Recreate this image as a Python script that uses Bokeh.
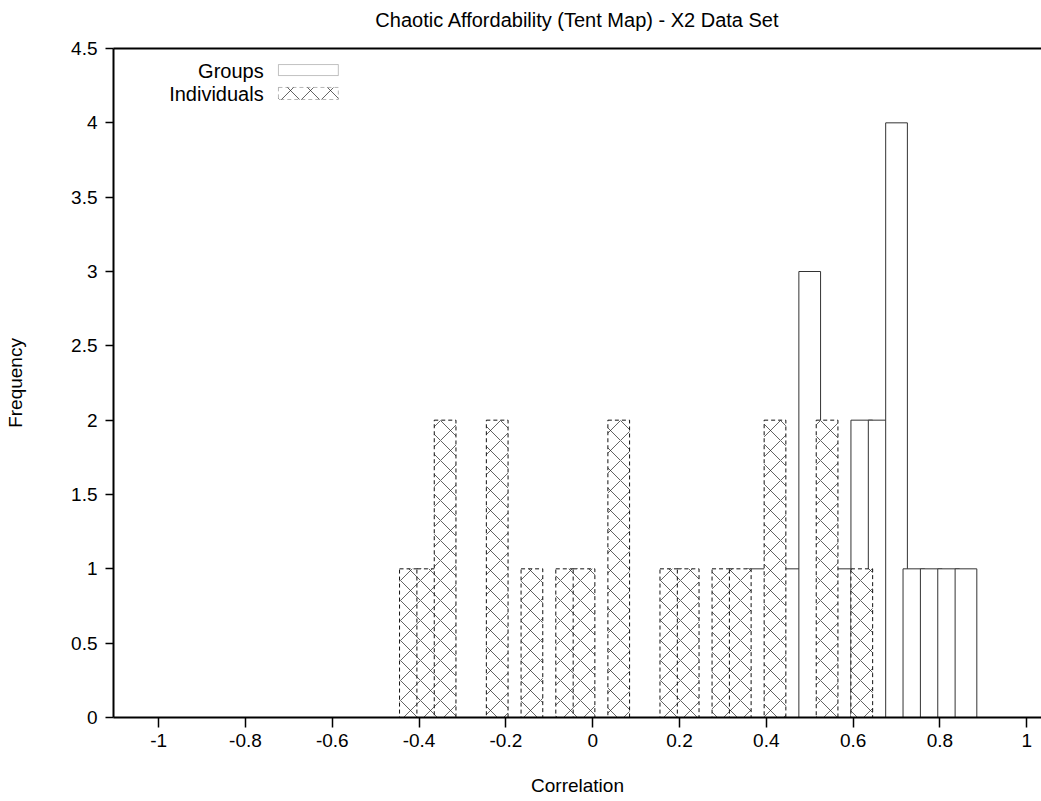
from bokeh.plotting import figure
from bokeh.models import (LinearAxis, FixedTicker, Range1d, Label, BoxAnnotation, ColumnDataSource, Title)
from bokeh.embed import file_html
from bokeh.resources import INLINE

# ---- data ----
ind_centers = [-0.42, -0.38, -0.34, -0.22, -0.14, -0.06, -0.02, 0.06, 0.18, 0.22, 0.30, 0.34, 0.42, 0.54, 0.62]
ind_freq = [1, 1, 2, 2, 1, 1, 1, 2, 1, 1, 1, 1, 2, 2, 1]
grp_centers = [0.38, 0.46, 0.50, 0.58, 0.62, 0.66, 0.70, 0.74, 0.78, 0.82, 0.86]
grp_freq = [1, 1, 3, 1, 2, 2, 4, 1, 1, 1, 1]
bin_width = 0.05

x_ticks = [-1, -0.8, -0.6, -0.4, -0.2, 0, 0.2, 0.4, 0.6, 0.8, 1]
x_labels = ["-1", "-0.8", "-0.6", "-0.4", "-0.2", "0", "0.2", "0.4", "0.6", "0.8", "1"]
y_ticks = [0, 0.5, 1, 1.5, 2, 2.5, 3, 3.5, 4, 4.5]
y_labels = ["0", "0.5", "1", "1.5", "2", "2.5", "3", "3.5", "4", "4.5"]

title_text = "Chaotic Affordability (Tent Map) - X2 Data Set"
series_names = ["Groups", "Individuals"]

FONT = "Liberation Sans"
FS = "19px"
FS_BIG = "20px"

p = figure(width=1041, height=800, output_backend="svg", toolbar_location=None,
           x_range=Range1d(-1.104, 1.034), y_range=Range1d(0, 4.5),
           min_border_left=113, min_border_right=0, min_border_top=48, min_border_bottom=83,
           title=None)
p.outline_line_color = None
p.grid.visible = False
p.background_fill_color = "white"

grp_src = ColumnDataSource(dict(x=grp_centers, top=grp_freq))
ind_src = ColumnDataSource(dict(x=ind_centers, top=ind_freq))

p.vbar(x="x", top="top", bottom=0, width=bin_width, source=grp_src,
       fill_color="white", line_color="#333333", line_width=1)
p.vbar(x="x", top="top", bottom=0, width=bin_width, source=ind_src,
       fill_color="white", line_color="#111111", line_width=1, line_dash="4 3",
       hatch_pattern="diagonal_cross", hatch_scale=20, hatch_weight=1,
       hatch_color="#222222", hatch_alpha=0.7)

# axes
xa = p.xaxis[0]
xa.ticker = FixedTicker(ticks=x_ticks)
xa.major_label_overrides = {t: l for t, l in zip(x_ticks, x_labels)}
xa.axis_label = "Correlation"
ya = p.yaxis[0]
ya.ticker = FixedTicker(ticks=y_ticks)
ya.major_label_overrides = {t: l for t, l in zip(y_ticks, y_labels)}
ya.axis_label = "Frequency"
for ax in (xa, ya):
    ax.axis_line_width = 2
    ax.axis_line_color = "black"
    ax.major_tick_line_width = 1.5
    ax.major_tick_line_color = "black"
    ax.major_tick_in = 0
    ax.minor_tick_line_color = None
    ax.major_label_text_font = FONT
    ax.major_label_text_font_size = FS
    ax.major_label_text_color = "black"
    ax.axis_label_text_font = FONT
    ax.axis_label_text_font_size = FS
    ax.axis_label_text_font_style = "normal"
    ax.axis_label_text_color = "black"
xa.major_tick_out = 10
xa.major_label_standoff = 6
xa.axis_label_standoff = 25
ya.major_tick_out = 8
ya.major_label_standoff = 8
ya.axis_label_standoff = 42

top_axis = LinearAxis(ticker=FixedTicker(ticks=[]), major_label_text_font_size="0px",
                      axis_line_width=2, axis_line_color="black",
                      major_tick_line_color=None, minor_tick_line_color=None)
p.add_layout(top_axis, "above")
# spacer, then the real title further out
p.add_layout(Title(text=" ", text_font_size="1px"), "above")
p.add_layout(Title(text=title_text, align="center", text_font=FONT, text_font_size=FS_BIG,
                   text_font_style="normal", text_color="black"), "above")

# legend (gnuplot style: label right-aligned, key to its right)
lg_text_x = -0.758
lg_key_left, lg_key_right = -0.724, -0.586
lg_rows = [(4.352, 4.318, 4.392), (4.197, 4.157, 4.238)]
for i, (name, (ty, kb, kt)) in enumerate(zip(series_names, lg_rows)):
    p.add_layout(Label(x=lg_text_x, y=ty, text=name, text_align="right", text_baseline="middle",
                       text_font=FONT, text_font_size=FS_BIG, text_color="black"))
    if i == 0:
        box = BoxAnnotation(left=lg_key_left, right=lg_key_right, bottom=kb, top=kt,
                            fill_color="white", fill_alpha=1, line_color="#333333", line_width=1)
    else:
        box = BoxAnnotation(left=lg_key_left, right=lg_key_right, bottom=kb, top=kt,
                            fill_color="white", fill_alpha=1, line_color="#111111", line_width=1,
                            line_dash="4 3", hatch_pattern="diagonal_cross", hatch_scale=20,
                            hatch_weight=1, hatch_color="#222222", hatch_alpha=0.7)
    p.add_layout(box)

open("out.html", "w").write(file_html(p, INLINE))
